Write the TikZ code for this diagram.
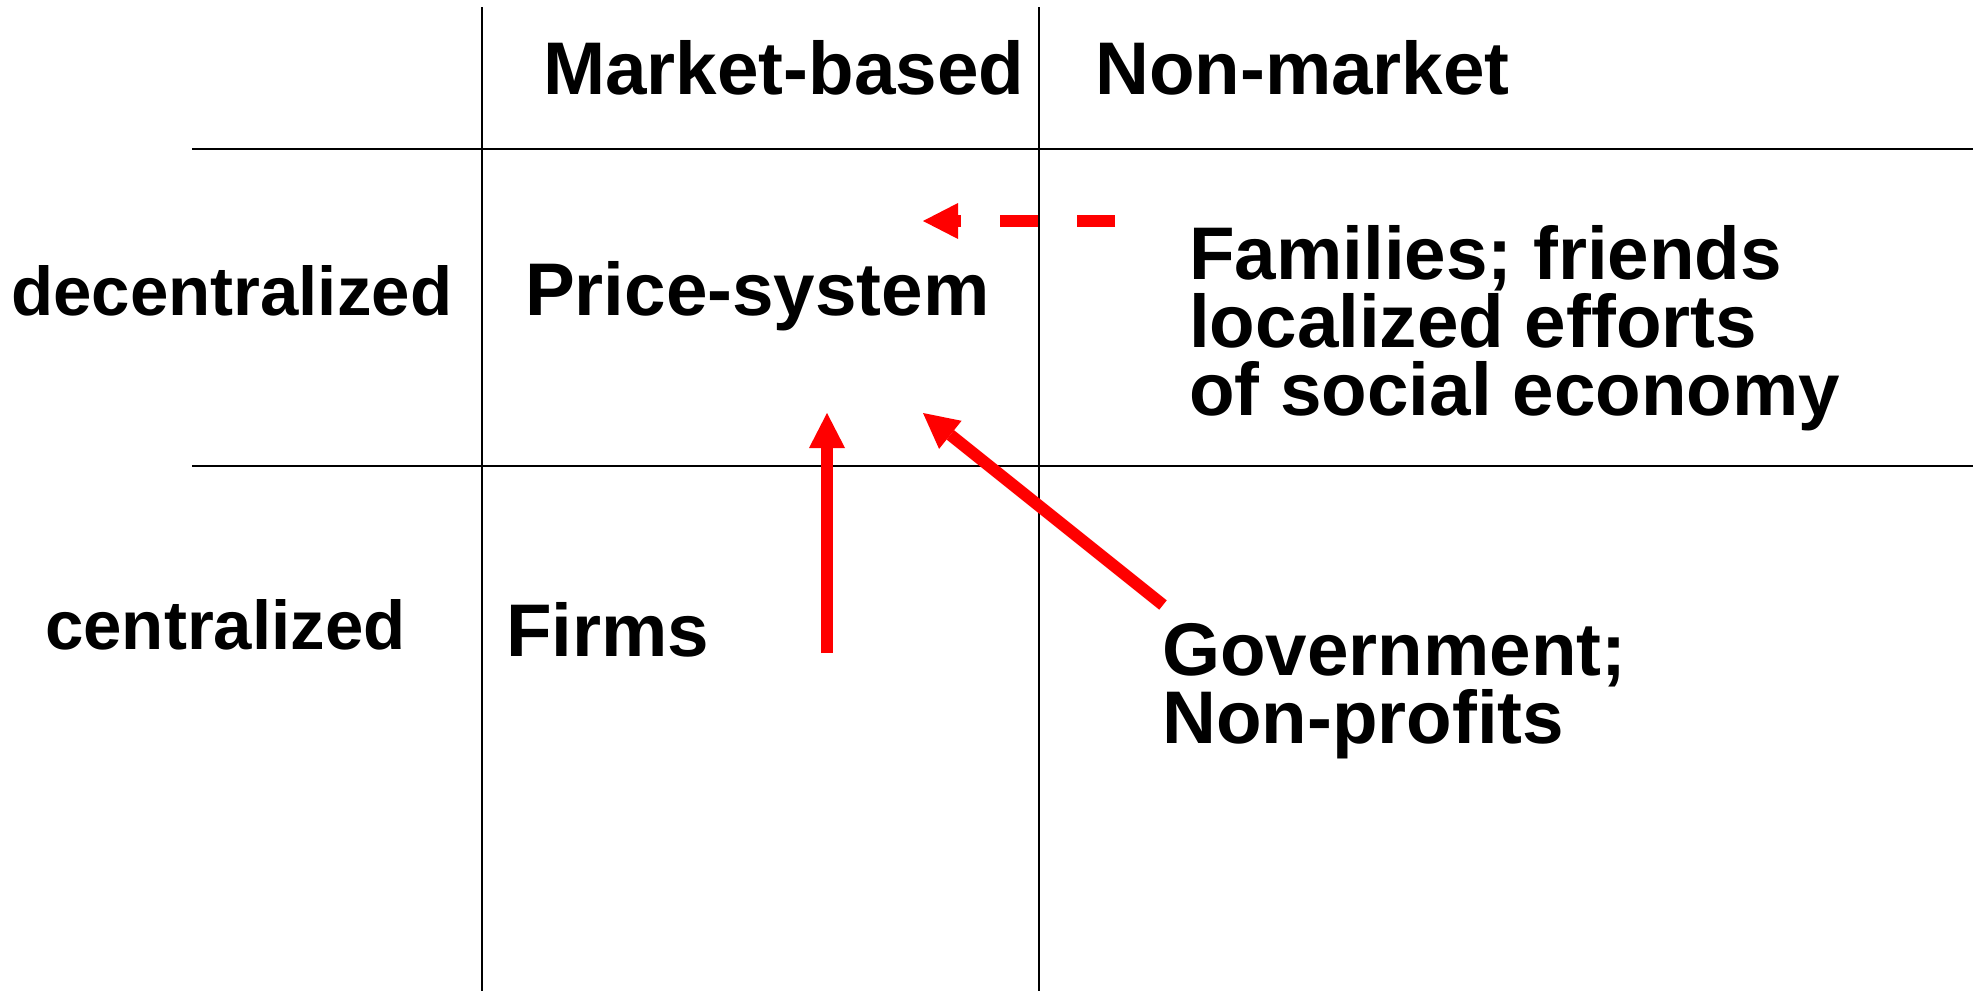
\documentclass[tikz,border=0pt]{standalone}
\usepackage{fontspec}
\setmainfont{Liberation Sans}
\usetikzlibrary{arrows.meta}
\definecolor{arrowred}{RGB}{255,0,0}
\tikzset{
  big/.style={anchor=base west,inner sep=0pt,font=\fontsize{74.6}{68}\selectfont\bfseries},
  side/.style={anchor=base west,inner sep=0pt,font=\fontsize{69}{64}\selectfont\bfseries},
  grid/.style={line width=2pt,black},
  redarrow/.style={line width=12pt,arrowred,-{Triangle[length=35pt,width=36pt,line width=0pt]}},
  reddash/.style={redarrow,dash pattern=on 38.5pt off 38.5pt}
}
\begin{document}
\begin{tikzpicture}[x=1pt,y=-1pt]
\useasboundingbox (0,0) rectangle (1979,991);
% grid
\coordinate (v1t) at (482,7);   \coordinate (v1b) at (482,991);
\coordinate (v2t) at (1039,7);  \coordinate (v2b) at (1039,991);
\coordinate (h1l) at (192,149); \coordinate (h1r) at (1973,149);
\coordinate (h2l) at (192,466); \coordinate (h2r) at (1973,466);
\draw[grid] (v1t) -- (v1b);
\draw[grid] (v2t) -- (v2b);
\draw[grid] (h1l) -- (h1r);
\draw[grid] (h2l) -- (h2r);
% headers
\node[big] (market) at (543,94) {Market-based};
\node[big] (nonmarket) at (1095,94) {Non-market};
% row labels
\node[side] (decent) at (11,315) {decentralized};
\node[side] (cent) at (45,649) {centralized};
% cells
\node[big] (price) at (525,315) {Price-system};
\node[big] (fam1) at (1189,279) {Families; friends};
\node[big] (fam2) at (1189,347) {localized efforts};
\node[big] (fam3) at (1189,415) {of social economy};
\node[big] (firms) at (506,656) {Firms};
\node[big] (gov1) at (1162,675) {Government;};
\node[big] (gov2) at (1162,743) {Non-profits};
% arrows
\coordinate (dashtail) at (1115,221);
\coordinate (dashtip) at (923,221);
\coordinate (uptail) at (827,653);
\coordinate (uptip) at (827,413);
\coordinate (diagtail) at (1163,605);
\coordinate (diagtip) at (923,413);
\draw[reddash] (dashtail) -- (dashtip);
\draw[redarrow] (uptail) -- (uptip);
\draw[redarrow] (diagtail) -- (diagtip);
\end{tikzpicture}
\end{document}
